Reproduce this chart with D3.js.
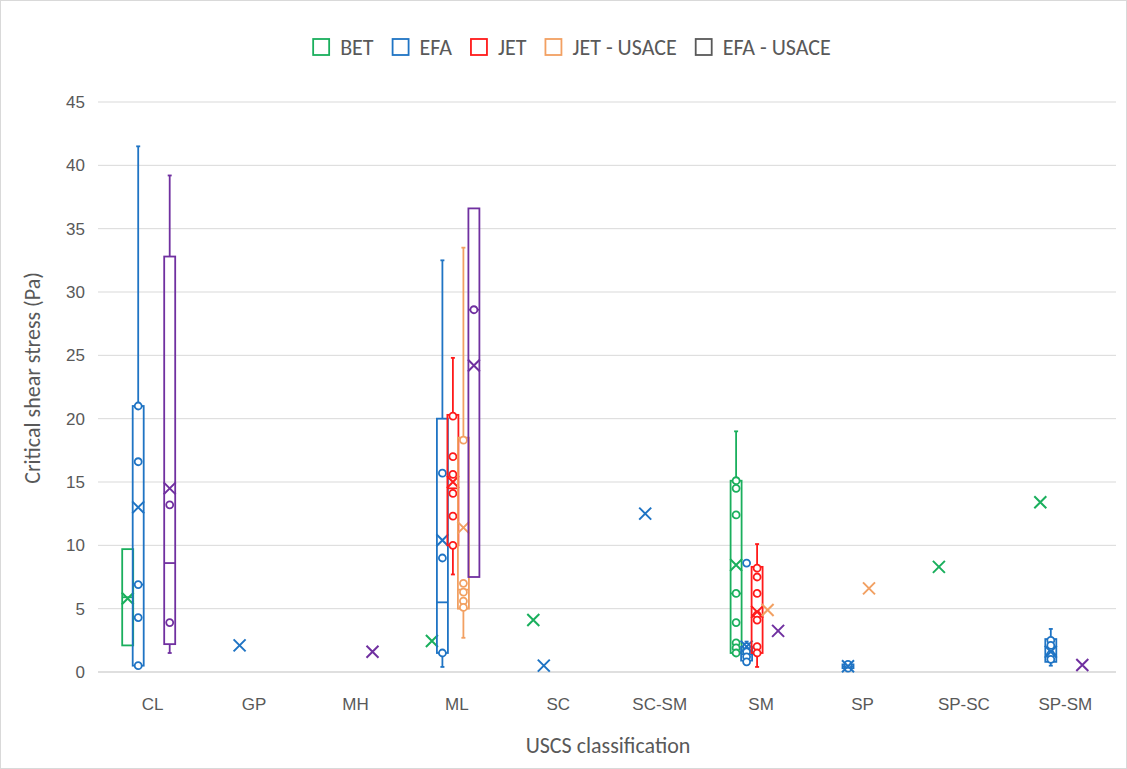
<!DOCTYPE html>
<html>
<head>
<meta charset="utf-8">
<script src="https://cdn.jsdelivr.net/npm/d3@7"></script>
<style>
  body { margin: 0; background: #fff; }
  svg { font-family: Carlito, Calibri, Lato, sans-serif; }
</style>
</head>
<body>
<div id="chart"></div>
<script>
// categories on the x axis and the five series
const categories = ["CL", "GP", "MH", "ML", "SC", "SC-SM", "SM", "SP", "SP-SC", "SP-SM"];
const seriesNames = ["BET", "EFA", "JET", "JET - USACE", "EFA - USACE"];
const seriesColors = ["#1aaf5d", "#1f74c4", "#ff1a1a", "#f2a062", "#7030a0"];
const legendColors = ["#1aaf5d", "#1f74c4", "#ff1a1a", "#f2a062", "#595959"];
const yTicks = [0, 5, 10, 15, 20, 25, 30, 35, 40, 45];

// rows: [category, whiskerLow, q1, median, q3, whiskerHigh, mean, inner points]
const BET = [
  ["CL", 2.1, 2.1, 5.9, 9.7, 9.7, 5.8, []],
  ["ML", 2.45, 2.45, 2.45, 2.45, 2.45, 2.45, []],
  ["SC", 4.1, 4.1, 4.1, 4.1, 4.1, 4.1, []],
  ["SM", 1.5, 1.5, 6.2, 15.1, 19.0, 8.45, [15.1, 14.5, 12.4, 6.2, 3.9, 2.3, 1.9, 1.5]],
  ["SP-SC", 8.3, 8.3, 8.3, 8.3, 8.3, 8.3, []],
  ["SP-SM", 13.4, 13.4, 13.4, 13.4, 13.4, 13.4, []]
];
const EFA = [
  ["CL", 0.5, 0.5, 6.9, 21.0, 41.5, 13.0, [21.0, 16.6, 6.9, 4.3, 0.5]],
  ["GP", 2.1, 2.1, 2.1, 2.1, 2.1, 2.1, []],
  ["ML", 0.4, 1.5, 5.5, 20.0, 32.5, 10.4, [15.7, 9.0, 1.5]],
  ["SC", 0.5, 0.5, 0.5, 0.5, 0.5, 0.5, []],
  ["SC-SM", 12.5, 12.5, 12.5, 12.5, 12.5, 12.5, []],
  ["SM", 0.6, 0.9, 1.4, 2.0, 2.4, 2.0, [8.6, 2.0, 1.6, 1.2, 0.8]],
  ["SP", 0.3, 0.3, 0.45, 0.6, 0.6, 0.45, [0.3, 0.6]],
  ["SP-SM", 0.5, 0.8, 1.4, 2.6, 3.4, 1.6, [2.5, 2.1, 1.4, 1.0]]
];
const JET = [
  ["ML", 7.7, 10.0, 14.5, 20.3, 24.8, 15.0, [20.2, 17.0, 15.6, 14.1, 12.3, 10.0]],
  ["SM", 0.4, 1.5, 4.5, 8.3, 10.1, 4.75, [8.2, 7.5, 6.2, 4.5, 4.1, 2.0, 1.5]]
];
const JET_USACE = [
  ["ML", 2.7, 5.0, 6.5, 18.5, 33.5, 11.4, [18.3, 7.0, 6.3, 5.6, 5.1]],
  ["SM", 4.9, 4.9, 4.9, 4.9, 4.9, 4.9, []],
  ["SP", 6.6, 6.6, 6.6, 6.6, 6.6, 6.6, []]
];
const EFA_USACE = [
  ["CL", 1.5, 2.2, 8.6, 32.8, 39.2, 14.5, [13.2, 3.9]],
  ["MH", 1.6, 1.6, 1.6, 1.6, 1.6, 1.6, []],
  ["ML", 7.5, 7.5, 28.6, 36.6, 36.6, 24.2, [28.6]],
  ["SM", 3.25, 3.25, 3.25, 3.25, 3.25, 3.25, []],
  ["SP-SM", 0.55, 0.55, 0.55, 0.55, 0.55, 0.55, []]
];
const seriesData = [BET, EFA, JET, JET_USACE, EFA_USACE];

const width = 1127, height = 769;
const svg = d3.select("#chart").append("svg")
  .attr("width", width).attr("height", height);

svg.append("rect")
  .attr("x", 0.5).attr("y", 0.5)
  .attr("width", width - 1).attr("height", height - 1)
  .attr("fill", "#fff").attr("stroke", "#d9d9d9");

const x = d3.scaleBand().domain(categories).range([102, 1116]);
const sub = d3.scalePoint().domain(seriesNames).range([-23, 19]);
const y = d3.scaleLinear().domain([0, 45]).range([672, 102]);

// gridlines
svg.append("g")
  .selectAll("line")
  .data(yTicks)
  .join("line")
  .attr("x1", 98).attr("x2", 1116)
  .attr("y1", d => y(d)).attr("y2", d => y(d))
  .attr("stroke", d => d === 0 ? "#bfbfbf" : "#d9d9d9")
  .attr("stroke-width", 1);

// axes
const yAxis = svg.append("g")
  .attr("transform", "translate(98,0)")
  .call(d3.axisLeft(y).tickValues(yTicks).tickSize(0).tickPadding(13));
yAxis.select(".domain").remove();
yAxis.selectAll("text").attr("font-size", 17).attr("fill", "#595959");

const xAxis = svg.append("g")
  .attr("transform", "translate(0,672)")
  .call(d3.axisBottom(x).tickSize(0).tickPadding(26));
xAxis.select(".domain").remove();
xAxis.selectAll("text").attr("font-size", 17).attr("fill", "#595959");

svg.append("text")
  .attr("x", 608).attr("y", 753)
  .attr("text-anchor", "middle")
  .attr("font-size", 22).attr("fill", "#595959")
  .text("USCS classification");

svg.append("text")
  .attr("transform", "translate(40,378) rotate(-90)")
  .attr("text-anchor", "middle")
  .attr("font-size", 22).attr("fill", "#595959")
  .text("Critical shear stress (Pa)");

// legend, laid out left to right and centred
const legend = svg.append("g").attr("transform", "translate(0,39)");
const items = legend.selectAll("g")
  .data(seriesNames)
  .join("g");
items.append("rect")
  .attr("width", 16).attr("height", 16)
  .attr("fill", "none")
  .attr("stroke", (d, i) => legendColors[i])
  .attr("stroke-width", 1.8);
items.append("text")
  .attr("x", 27).attr("y", 16)
  .attr("font-size", 22).attr("fill", "#595959")
  .text(d => d);
let cursor = 0;
const offsets = [];
items.each(function () {
  offsets.push(cursor);
  cursor += 27 + d3.select(this).select("text").node().getComputedTextLength() + 19;
});
const legendStart = 572 - (cursor - 19) / 2;
items.attr("transform", (d, i) => `translate(${legendStart + offsets[i]},0)`);

// boxes
const boxW = 11;
seriesData.forEach((rows, si) => {
  const color = seriesColors[si];
  const g = svg.append("g")
    .attr("stroke", color)
    .attr("stroke-width", 1.8)
    .attr("fill", "none");

  const item = g.selectAll("g")
    .data(rows)
    .join("g")
    .attr("transform", d => `translate(${x(d[0]) + x.bandwidth() / 2 - 2 + sub(seriesNames[si])},0)`);

  const ranged = item.filter(d => d[5] > d[1]);

  // whiskers
  ranged.append("line")
    .attr("y1", d => y(d[5])).attr("y2", d => y(d[4]));
  ranged.append("line")
    .attr("y1", d => y(d[2])).attr("y2", d => y(d[1]));
  ranged.filter(d => d[5] > d[4]).append("line")
    .attr("x1", -2).attr("x2", 2)
    .attr("y1", d => y(d[5])).attr("y2", d => y(d[5]));
  ranged.filter(d => d[1] < d[2]).append("line")
    .attr("x1", -2).attr("x2", 2)
    .attr("y1", d => y(d[1])).attr("y2", d => y(d[1]));

  // box and median
  ranged.append("rect")
    .attr("x", -boxW / 2).attr("width", boxW)
    .attr("y", d => y(d[4]))
    .attr("height", d => Math.max(1, y(d[2]) - y(d[4])));
  ranged.append("line")
    .attr("x1", -boxW / 2).attr("x2", boxW / 2)
    .attr("y1", d => y(d[3])).attr("y2", d => y(d[3]));

  // inner points
  item.selectAll("circle")
    .data(d => d[7])
    .join("circle")
    .attr("r", 3.5)
    .attr("cy", d => y(d))
    .attr("fill", "#fff");

  // mean marker
  item.append("path")
    .attr("d", d => {
      const c = y(d[6]), s = 6;
      return `M${-s},${c - s}L${s},${c + s}M${-s},${c + s}L${s},${c - s}`;
    })
    .attr("stroke-width", 2);
});
</script>
</body>
</html>
